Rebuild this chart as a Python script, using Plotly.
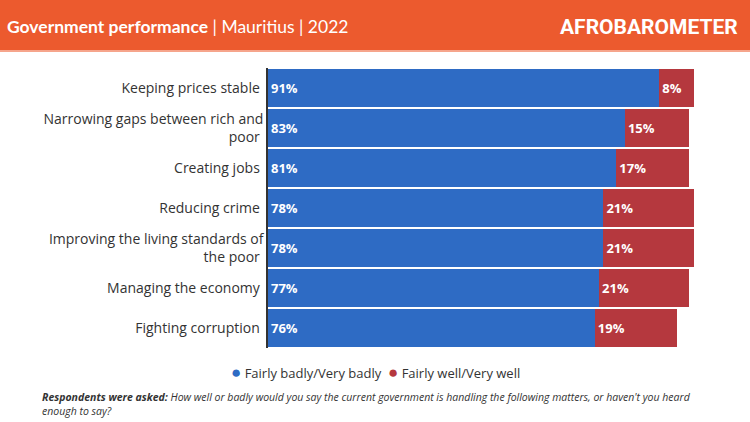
import plotly.graph_objects as go

categories = [
    "Keeping prices stable",
    "Narrowing gaps between rich and<br>poor",
    "Creating jobs",
    "Reducing crime",
    "Improving the living standards of<br>the poor",
    "Managing the economy",
    "Fighting corruption",
]
badly = [91, 83, 81, 78, 78, 77, 76]
well = [8, 15, 17, 21, 21, 21, 19]
series_names = ["Fairly badly/Very badly", "Fairly well/Very well"]
colors = ["#2E6BC4", "#B5383E"]

W, H = 750, 422
ML, MR, MT, MB = 268, 52, 68, 74
PH = H - MT - MB
PW = W - ML - MR

def py(p):
    return 1 - (p - MT) / PH

def px(p):
    return (p - ML) / PW

FONT = "Open Sans"

fig = go.Figure()
for name, vals, col in zip(series_names, [badly, well], colors):
    fig.add_trace(go.Bar(
        y=categories, x=vals, name=name, orientation="h",
        marker=dict(color=col, line=dict(width=0)),
        text=[f"{v}%" for v in vals], textposition="inside",
        insidetextanchor="start", showlegend=False,
        textfont=dict(color="white", size=13, family=FONT, weight="bold"),
    ))

fig.update_layout(
    width=W, height=H,
    margin=dict(l=ML, r=MR, t=MT, b=MB, autoexpand=False),
    barmode="stack", bargap=0.07,
    plot_bgcolor="white", paper_bgcolor="white",
    font=dict(family=FONT, color="#333333", size=13),
    showlegend=False,
    xaxis=dict(range=[0, 100], showgrid=False, showticklabels=False, zeroline=False,
               showline=False, fixedrange=True, automargin=False),
    yaxis=dict(autorange="reversed", showgrid=False, ticks="", ticksuffix=" ",
               showline=True, linecolor="#333333", linewidth=1.5, automargin=False,
               tickfont=dict(size=14, color="#333333")),
    uniformtext=dict(minsize=8, mode="show"),
)

fig.add_shape(type="rect", xref="paper", yref="paper",
              x0=px(0), x1=px(W), y0=py(50), y1=py(0),
              fillcolor="#EC5A2E", line=dict(width=0), layer="above")
fig.add_shape(type="rect", xref="paper", yref="paper",
              x0=px(0), x1=px(W), y0=py(52), y1=py(50),
              fillcolor="#F6A58C", line=dict(width=0), layer="above")

fig.add_annotation(xref="paper", yref="paper", x=px(5), y=py(26),
                   xanchor="left", yanchor="middle", showarrow=False,
                   text="<b>Government performance</b> | Mauritius | 2022",
                   font=dict(size=17.5, color="white", family="Lato"))
fig.add_annotation(xref="paper", yref="paper", x=px(740), y=py(27),
                   xanchor="right", yanchor="middle", showarrow=False,
                   text="<b>AFROBAROMETER</b>",
                   font=dict(size=21, color="white", family="Roboto"))

legend_text = "  ".join(
    f'<span style="color:{c};font-size:17px">●</span> {n}' for n, c in zip(series_names, colors)
)
fig.add_annotation(xref="paper", yref="paper", x=px(375), y=py(371),
                   xanchor="center", yanchor="middle", showarrow=False,
                   text=legend_text,
                   font=dict(size=13, color="#333333", family=FONT))

fig.add_annotation(xref="paper", yref="paper", x=px(40), y=py(404),
                   xanchor="left", yanchor="middle", showarrow=False, align="left",
                   text="<b><i>Respondents were asked:</i></b> <i>How well or badly would you say the current government is handling the following matters, or haven't you heard</i><br><i>enough to say?</i>",
                   font=dict(size=10.5, color="#333333", family=FONT))

fig.write_html("out.html", config={"displayModeBar": False},
               post_script="document.body.style.margin='0px';")
